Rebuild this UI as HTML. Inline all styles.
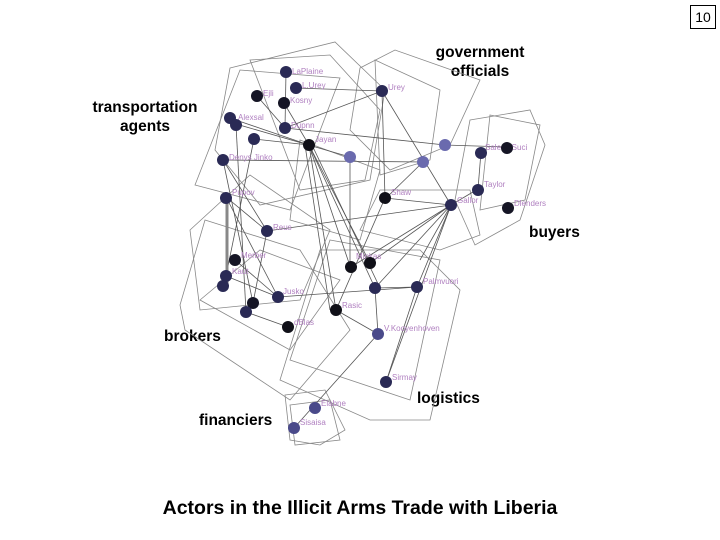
<!DOCTYPE html>
<html><head><style>
body{margin:0;width:720px;height:540px;background:#fff;overflow:hidden;font-family:"Liberation Sans",sans-serif;}
.l{position:absolute;font-size:15.5px;font-weight:bold;color:#000;text-align:center;line-height:19px}
</style></head><body>
<div style="position:absolute;left:690px;top:5px;width:24px;height:22px;border:1px solid #000;font-size:14px;text-align:center;line-height:22px">10</div>
<div class="l" style="left:425px;top:43px;width:110px">government<br>officials</div>
<div class="l" style="left:85px;top:98px;width:120px">transportation<br>agents</div>
<div class="l" style="left:529px;top:223px">buyers</div>
<div class="l" style="left:164px;top:327px">brokers</div>
<div class="l" style="left:417px;top:389px">logistics</div>
<div class="l" style="left:199px;top:411px">financiers</div>
<div style="position:absolute;left:0;width:720px;top:497px;text-align:center;font-size:19.5px;font-weight:bold">Actors in the Illicit Arms Trade with Liberia</div>
<svg width="720" height="540" style="position:absolute;left:0;top:0">
<g fill="none" stroke="#888" stroke-width="0.8">
<polygon points="230,68 335,42 385,90 370,180 260,205 215,150"/>
<polygon points="195,185 240,70 340,78 290,210"/>
<polygon points="250,60 330,55 380,110 365,180 300,190"/>
<polygon points="360,68 395,50 480,80 450,145 390,170 350,130"/>
<polygon points="375,60 440,90 430,160 380,175"/>
<polygon points="470,120 530,110 545,145 520,220 475,245 455,200"/>
<polygon points="490,115 540,125 525,200 480,210"/>
<polygon points="190,230 250,175 330,230 300,300 200,310"/>
<polygon points="180,305 205,220 300,250 350,330 290,400 185,330"/>
<polygon points="200,300 260,250 340,280 290,350"/>
<polygon points="320,250 420,250 460,290 430,420 370,420 280,380"/>
<polygon points="330,240 440,260 410,400 290,360"/>
<polygon points="285,395 325,390 345,430 320,445 290,440"/>
<polygon points="290,405 330,400 340,440 295,445"/>
<polygon points="380,190 470,190 480,235 440,250 360,230"/>
<polygon points="300,140 380,170 360,240 290,220"/>
</g>
<g stroke="#555" stroke-width="0.8">
<line x1="296" y1="88" x2="382" y2="91"/><line x1="285" y1="128" x2="382" y2="91"/>
<line x1="285" y1="128" x2="445" y2="145"/><line x1="236" y1="124" x2="350" y2="157"/>
<line x1="223" y1="160" x2="423" y2="162"/><line x1="382" y1="91" x2="385" y2="198"/>
<line x1="382" y1="91" x2="451" y2="205"/><line x1="445" y1="145" x2="507" y2="147"/>
<line x1="481" y1="152" x2="478" y2="189"/><line x1="478" y1="189" x2="451" y2="205"/>
<line x1="309" y1="145" x2="350" y2="266"/><line x1="309" y1="145" x2="370" y2="263"/>
<line x1="309" y1="145" x2="336" y2="310"/><line x1="309" y1="145" x2="375" y2="288"/>
<line x1="312" y1="145" x2="380" y2="288"/><line x1="305" y1="145" x2="330" y2="310"/>
<line x1="226" y1="197" x2="267" y2="231"/><line x1="226" y1="197" x2="278" y2="297"/>
<line x1="267" y1="231" x2="451" y2="205"/><line x1="385" y1="198" x2="451" y2="205"/>
<line x1="451" y1="205" x2="370" y2="263"/><line x1="451" y1="205" x2="375" y2="288"/>
<line x1="451" y1="205" x2="417" y2="287"/><line x1="451" y1="205" x2="386" y2="382"/>
<line x1="451" y1="205" x2="351" y2="267"/><line x1="451" y1="205" x2="420" y2="260"/>
<line x1="278" y1="297" x2="417" y2="287"/><line x1="375" y1="288" x2="417" y2="287"/>
<line x1="375" y1="288" x2="378" y2="334"/><line x1="336" y1="310" x2="378" y2="334"/>
<line x1="378" y1="334" x2="294" y2="428"/><line x1="246" y1="312" x2="288" y2="327"/>
<line x1="226" y1="276" x2="278" y2="297"/><line x1="235" y1="260" x2="278" y2="297"/>
<line x1="257" y1="96" x2="285" y2="128"/><line x1="284" y1="103" x2="309" y2="145"/>
<line x1="230" y1="118" x2="309" y2="145"/><line x1="254" y1="139" x2="226" y2="276"/>
<line x1="223" y1="160" x2="253" y2="303"/><line x1="286" y1="72" x2="285" y2="128"/>
<line x1="385" y1="198" x2="336" y2="310"/><line x1="350" y1="157" x2="350" y2="266"/>
<line x1="417" y1="287" x2="386" y2="382"/><line x1="423" y1="162" x2="386" y2="198"/>
<line x1="223" y1="160" x2="267" y2="231"/><line x1="236" y1="125" x2="246" y2="312"/>
<line x1="254" y1="139" x2="309" y2="145"/><line x1="267" y1="231" x2="253" y2="303"/>
</g>
<line x1="227" y1="197" x2="227" y2="285" stroke="#888" stroke-width="3"/>
<g fill="#b080c0" font-size="8">
<text x="292" y="74">LaPlaine</text><text x="302" y="88">L.Urey</text><text x="263" y="96">Ejli</text>
<text x="290" y="103">Kosny</text><text x="238" y="120">Alexsal</text><text x="291" y="128">Dupnn</text>
<text x="315" y="142">Jayan</text><text x="229" y="160">Denys Jinko</text><text x="388" y="90">Urey</text>
<text x="485" y="150">Salemi Suci</text><text x="484" y="187">Taylor</text><text x="514" y="206">Dlenders</text>
<text x="457" y="203">Gallor</text><text x="391" y="195">Shaw</text><text x="232" y="195">Pupov</text>
<text x="273" y="230">Reus</text><text x="241" y="258">Merber</text><text x="232" y="274">Kaut</text>
<text x="283" y="294">Jusko</text><text x="356" y="259">Minkas</text><text x="423" y="284">Palmvuori</text>
<text x="342" y="308">Rasic</text><text x="294" y="325">dBlas</text><text x="384" y="331">V.Kooyenhoven</text>
<text x="392" y="380">Sirmay</text><text x="321" y="406">Elabne</text><text x="300" y="425">Sisaisa</text>
</g>
<g fill="#2a2a55">
<circle cx="286" cy="72" r="6"/><circle cx="296" cy="88" r="6"/><circle cx="257" cy="96" r="6" fill="#151525"/>
<circle cx="284" cy="103" r="6" fill="#151525"/><circle cx="230" cy="118" r="6"/><circle cx="236" cy="125" r="6"/>
<circle cx="285" cy="128" r="6"/><circle cx="254" cy="139" r="6"/><circle cx="309" cy="145" r="6" fill="#101018"/>
<circle cx="223" cy="160" r="6"/><circle cx="350" cy="157" r="6" fill="#6a6aae"/><circle cx="382" cy="91" r="6"/>
<circle cx="445" cy="145" r="6" fill="#6a6aae"/><circle cx="423" cy="162" r="6" fill="#6a6aae"/>
<circle cx="481" cy="153" r="6"/><circle cx="507" cy="148" r="6" fill="#151525"/><circle cx="478" cy="190" r="6"/>
<circle cx="508" cy="208" r="6" fill="#151525"/><circle cx="451" cy="205" r="6"/><circle cx="385" cy="198" r="6" fill="#101018"/>
<circle cx="226" cy="198" r="6"/><circle cx="267" cy="231" r="6"/><circle cx="235" cy="260" r="6" fill="#151525"/>
<circle cx="226" cy="276" r="6"/><circle cx="223" cy="286" r="6"/><circle cx="253" cy="303" r="6" fill="#151525"/>
<circle cx="246" cy="312" r="6"/><circle cx="278" cy="297" r="6"/><circle cx="351" cy="267" r="6" fill="#101018"/>
<circle cx="370" cy="263" r="6" fill="#101018"/><circle cx="375" cy="288" r="6"/><circle cx="417" cy="287" r="6"/>
<circle cx="336" cy="310" r="6" fill="#101018"/><circle cx="288" cy="327" r="6" fill="#101018"/>
<circle cx="378" cy="334" r="6" fill="#4a4a8a"/><circle cx="386" cy="382" r="6"/>
<circle cx="315" cy="408" r="6" fill="#4a4a8a"/><circle cx="294" cy="428" r="6" fill="#4a4a8a"/>
</g>
</svg>
</body></html>
